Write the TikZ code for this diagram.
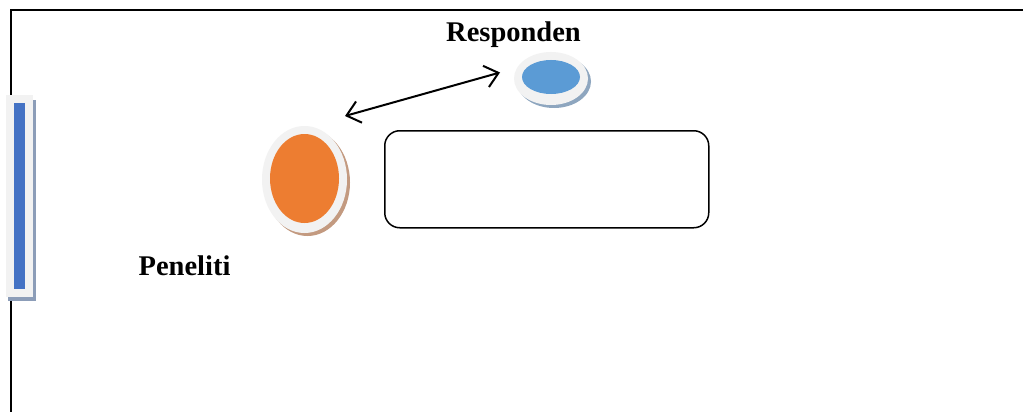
\documentclass[tikz,border=0pt]{standalone}
\usepackage{fontspec}
\setmainfont{Liberation Serif}
\usetikzlibrary{arrows.meta}
\definecolor{rimgray}{HTML}{F2F2F2}
\definecolor{barblue}{HTML}{4472C4}
\definecolor{barshadow}{HTML}{8C9DB8}
\definecolor{dotorange}{HTML}{ED7D31}
\definecolor{orangeshadow}{HTML}{C39A80}
\definecolor{dotblue}{HTML}{5B9BD5}
\definecolor{blueshadow}{HTML}{8EA6BF}
\tikzset{
  frameline/.style={line width=1.4pt, black},
  label/.style={font=\fontsize{28.5}{30}\selectfont\bfseries, anchor=base, inner sep=0pt},
  link/.style={line width=2pt, {Straight Barb[length=13pt,width=22pt,line width=2pt]}-{Straight Barb[length=13pt,width=22pt,line width=2pt]}},
  panel/.style={draw, line width=1.5pt, rounded corners=15pt}
}
\begin{document}
\begin{tikzpicture}[x=1pt,y=-1pt]
\useasboundingbox (0,0) rectangle (1023,412);
\fill[white] (0,0) rectangle (1023,412);

% open frame: top and left edges
\draw[frameline] (1023,10) -- (11,10) -- (11,412);

% side bar with drop shadow
\fill[barshadow] (8,100) rectangle (36,301);
\fill[rimgray] (6,95) rectangle (33,297);
\fill[barblue] (14,103) rectangle (25,289);

% orange participant
\fill[orangeshadow] (307.5,182.5) ellipse [x radius=42.5, y radius=53.5];
\fill[rimgray] (304.5,179.5) ellipse [x radius=42.5, y radius=53.5];
\fill[dotorange] (304.5,178.5) ellipse [x radius=34.5, y radius=44.5];
\coordinate (peneliti) at (345,116);

% blue participant
\fill[blueshadow] (554,81.5) ellipse [x radius=37, y radius=26.5];
\fill[rimgray] (551,78.5) ellipse [x radius=37, y radius=26.5];
\fill[dotblue] (551,77) ellipse [x radius=29, y radius=17];
\coordinate (responden) at (500,72.5);

% two-way link
\draw[link] (peneliti) -- (responden);

% empty panel
\node[panel, minimum width=324pt, minimum height=97pt, anchor=north west] (box) at (384,130) {};

% labels
\node[label] (lresp) at (513.5,42) {Responden};
\node[label] (lpen) at (184.5,275) {Peneliti};
\end{tikzpicture}
\end{document}
